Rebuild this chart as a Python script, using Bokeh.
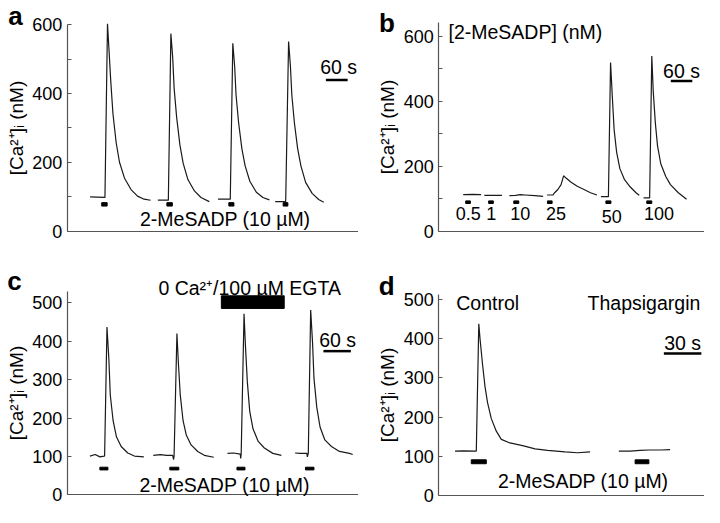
from bokeh.plotting import figure
from bokeh.layouts import row, column
from bokeh.models import Range1d, FixedTicker, Label, LinearAxis
from bokeh.embed import file_html
from bokeh.resources import INLINE

FONT = "Liberation Sans"
TRACE = "#1a1a1a"
AXIS = "#555555"

# ---------------- data (time in s, [Ca2+]i in nM) ----------------
# Panel a: four responses to 2-MeSADP (10 uM)
a_t = [
    [63, 102, 104, 111, 115, 120, 126, 135, 144, 158, 176, 194, 212, 230],
    [250, 277, 279, 286, 291, 295, 302, 311, 320, 333, 351, 369, 392],
    [416, 448, 450, 457, 462, 466, 473, 482, 491, 504, 522, 540, 558],
    [574, 601, 603, 611, 616, 620, 627, 636, 645, 658, 676, 694, 708],
]
a_v = [
    [100, 98, 98, 603, 530, 436, 342, 257, 201, 154, 121, 102, 93, 90],
    [90, 90, 90, 574, 505, 415, 330, 250, 197, 150, 117, 98, 86],
    [93, 93, 93, 546, 480, 395, 315, 240, 190, 145, 113, 98, 91],
    [86, 86, 86, 551, 480, 395, 315, 240, 190, 142, 110, 92, 84],
]
a_stim_start = [95, 275, 446, 596]
a_stim_end = [110, 290, 460, 609]

# Panel b: dose series
b_doses = ["0.5", "1", "10", "25", "50", "100"]
b_t = [
    [68, 94, 118],
    [127, 151, 176],
    [197, 214, 227, 241, 268, 291],
    [302, 318, 323, 332, 341, 348, 355, 368, 386, 405, 423, 441],
    [452, 470, 473, 479, 484, 489, 496, 505, 518, 532, 550, 559],
    [571, 586, 588, 594, 598, 604, 610, 619, 633, 646, 668, 691],
]
b_v = [
    [113, 114, 113],
    [111, 111, 111],
    [110, 111, 113, 112, 110, 108],
    [112, 112, 119, 129, 144, 171, 164, 152, 139, 129, 119, 112],
    [107, 107, 107, 519, 412, 312, 243, 193, 159, 139, 119, 111],
    [103, 103, 103, 539, 431, 332, 263, 208, 169, 144, 119, 99],
]
b_stim_start = [75, 139, 209, 303, 466, 580]
b_stim_end = [88, 152, 223, 316, 480, 594]

# Panel c: responses with 0 Ca2+/EGTA period
c_t = [
    [48, 59, 69, 78, 79, 84, 88, 91, 97, 104, 114, 128, 142, 162],
    [182, 197, 210, 223, 225, 226, 232, 235, 239, 245, 252, 262, 276, 290, 310],
    [339, 352, 366, 367, 368, 374, 377, 381, 386, 393, 404, 417, 435, 453],
    [482, 493, 507, 508, 510, 515, 519, 522, 528, 535, 545, 559, 576, 597, 604],
]
c_v = [
    [101, 105, 99, 101, 101, 437, 353, 260, 193, 151, 126, 109, 101, 99],
    [103, 105, 103, 103, 92, 101, 420, 345, 261, 193, 155, 130, 113, 103, 98],
    [108, 109, 106, 95, 108, 471, 387, 294, 218, 172, 139, 122, 108, 103],
    [109, 108, 108, 99, 109, 481, 395, 303, 227, 176, 143, 126, 113, 108, 105],
]
c_stim_start = [69, 217, 359, 504]
c_stim_end = [86, 236, 376, 522]
c_egta = [326, 459]

# Panel d: control vs thapsigargin
d_t = [
    [13, 20, 29, 30, 32, 33, 35, 37, 39, 42, 46, 50, 56, 67, 77, 87, 101, 111, 121],
    [144, 153, 161, 168, 178, 185],
]
d_v = [
    [113, 114, 113, 113, 438, 399, 334, 277, 237, 196, 164, 143, 135, 127, 119, 115, 111, 109, 111],
    [113, 113, 115, 116, 116, 117],
]
d_stim_start = [26, 157]
d_stim_end = [38, 168]

ticks_ab = [0, 200, 400, 600]
minor_ab = [100, 300, 500]
ticks_cd = [0, 100, 200, 300, 400, 500]

TXT = "19.5px"
LET = "26px"


def make_fig(width, height, xr, yr, xmax, yticks, yminor, ybound, lab_standoff):
    p = figure(width=width, height=height,
               x_range=Range1d(*xr), y_range=Range1d(*yr),
               x_axis_location=None, y_axis_location=None,
               output_backend="svg", toolbar_location=None, tools="",
               min_border=0, min_border_left=0, min_border_right=0,
               min_border_top=0, min_border_bottom=0)
    p.outline_line_color = None
    p.grid.visible = False
    p.background_fill_color = "white"
    p.border_fill_color = "white"
    xa = LinearAxis(fixed_location=0, ticker=FixedTicker(ticks=[]), bounds=(0, xmax))
    xa.major_tick_out = 0
    xa.major_tick_in = 0
    xa.minor_tick_out = 0
    xa.minor_tick_in = 0
    xa.major_label_standoff = 0
    xa.major_label_text_font_size = "0px"
    xa.axis_line_color = AXIS
    xa.axis_line_width = 1.2
    p.add_layout(xa, "below")
    ya = LinearAxis(fixed_location=0, ticker=FixedTicker(ticks=yticks, minor_ticks=yminor),
                    bounds=(0, ybound))
    ya.axis_line_color = AXIS
    ya.axis_line_width = 1.2
    ya.major_tick_in = 4
    ya.major_tick_out = 0
    ya.minor_tick_in = 4
    ya.minor_tick_out = 0
    ya.major_tick_line_color = AXIS
    ya.minor_tick_line_color = AXIS
    ya.major_label_standoff = 5
    ya.major_label_text_font = FONT
    ya.major_label_text_font_size = "18px"
    ya.major_label_text_color = "black"
    ya.axis_label = "[Ca²⁺]ᵢ (nM)"
    ya.axis_label_text_font = FONT
    ya.axis_label_text_font_size = "19px"
    ya.axis_label_text_font_style = "normal"
    ya.axis_label_text_color = "black"
    ya.axis_label_standoff = lab_standoff
    p.add_layout(ya, "left")
    return p


def txt(p, x, y, text, size=TXT, align="center", bold=False):
    p.add_layout(Label(x=x, y=y, text=text, text_font=FONT, text_font_size=size,
                       text_align=align, text_baseline="middle", text_color="black",
                       text_font_style="bold" if bold else "normal"))


def traces(p, ts, vs):
    p.multi_line(xs=ts, ys=vs, line_color=TRACE, line_width=1.2)


# ---------------- panel a ----------------
pa = make_fig(358, 252, (-184.4, 804.0), (-61.9, 670.3), 804.0, ticks_ab, minor_ab, 600, 2)
traces(pa, a_t, a_v)
pa.quad(left=a_stim_start, right=a_stim_end, bottom=[73] * 4, top=[83] * 4, color="black")
pa.segment(x0=[714], y0=[439], x1=[774], y1=[439], line_color="black", line_width=2.5)
txt(pa, 749, 477, "60 s")
txt(pa, 436, 35, "2-MeSADP (10 µM)")
txt(pa, -163, 624, "a", size=LET, align="left", bold=True)

# ---------------- panel b ----------------
pb = make_fig(346, 252, (-224.0, 741), (-64.5, 709.2), 741, ticks_ab, minor_ab, 643, 2)
traces(pb, b_t, b_v)
pb.quad(left=b_stim_start, right=b_stim_end, bottom=[86] * 6, top=[94] * 6, color="black")
pb.segment(x0=[647], y0=[462], x1=[707], y1=[462], line_color="black", line_width=2.5)
txt(pb, 677, 493, "60 s")
txt(pb, 27, 612, "[2-MeSADP] (nM)", align="left")
dose_x = [82, 146, 227, 327, 482, 614]
dose_y = [54, 54, 54, 54, 45, 54]
for d, x, y in zip(b_doses, dose_x, dose_y):
    txt(pb, x, y, d, size="18px")
txt(pb, -167, 639, "b", size=LET, align="left", bold=True)

# ---------------- panel c ----------------
pc = make_fig(358, 255, (-141.3, 616.2), (-32.8, 630.6), 616.2, ticks_cd, [], 529, 2)
traces(pc, c_t, c_v)
pc.quad(left=c_stim_start, right=c_stim_end, bottom=[65] * 4, top=[72] * 4, color="black")
pc.quad(left=[c_egta[0]], right=[c_egta[1]], bottom=[485], top=[518], color="black")
pc.segment(x0=[542], y0=[374], x1=[600], y1=[374], line_color="black", line_width=2.5)
txt(pc, 572, 403, "60 s")
txt(pc, 386, 539, "0 Ca²⁺/100 µM EGTA")
txt(pc, 333, 27, "2-MeSADP (10 µM)")
txt(pc, -127, 557, "c", size=LET, align="left", bold=True)

# ---------------- panel d ----------------
pd = make_fig(346, 255, (-64.2, 212.5), (-30.6, 619.6), 212.5, ticks_cd, [], 512, 2)
traces(pd, d_t, d_v)
pd.quad(left=d_stim_start, right=d_stim_end, bottom=[81] * 2, top=[91] * 2, color="black")
pd.segment(x0=[180], y0=[362], x1=[210], y1=[362], line_color="black", line_width=2.5)
txt(pd, 195, 388, "30 s")
txt(pd, 14, 490, "Control", align="left")
txt(pd, 119, 490, "Thapsigargin", align="left")
txt(pd, 115.5, 38, "2-MeSADP (10 µM)")
txt(pd, -48, 535, "d", size=LET, align="left", bold=True)

layout = column(row(pa, pb), row(pc, pd))
open("out.html", "w").write(file_html(layout, INLINE))
